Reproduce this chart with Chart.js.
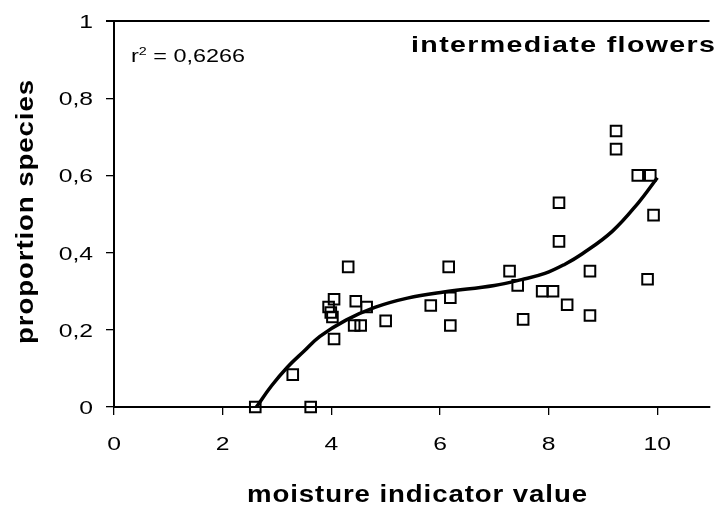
<!DOCTYPE html>
<html>
<head>
<meta charset="utf-8">
<script src="https://cdn.jsdelivr.net/npm/chart.js@4.4.1/dist/chart.umd.min.js"></script>
<style>
  body { margin: 0; background: #fff; }
</style>
</head>
<body>
<canvas id="myChart" width="719" height="508"></canvas>
<script>
// moisture indicator value vs proportion of species (intermediate flowers)
const moisture = [2.60, 3.29, 3.62, 3.95, 3.99, 4.02, 4.05, 4.05, 4.31, 4.42, 4.45, 4.54, 4.65, 5.00, 5.83, 6.16, 6.19, 6.19,
  7.28, 7.43, 7.53, 7.88, 8.08, 8.19, 8.19, 8.34, 8.76, 8.76, 9.24, 9.24, 9.64, 9.87, 9.93, 9.82]
const proportion = [0, 0.084, 0, 0.259, 0.245, 0.233, 0.279, 0.176, 0.363, 0.211, 0.274, 0.211, 0.259, 0.223, 0.263, 0.363, 0.283, 0.211,
  0.352, 0.315, 0.227, 0.300, 0.300, 0.529, 0.429, 0.265, 0.352, 0.237, 0.715, 0.668, 0.600, 0.600, 0.497, 0.331]

// trendline
const trendX = [2.62, 2.9, 3.19, 3.5, 3.79, 4.27, 4.8, 5.4, 6.07, 7.0, 7.5, 7.93, 8.3, 8.62, 9.17, 9.65, 10.0]
const trendY = [0, 0.055, 0.103, 0.145, 0.183, 0.225, 0.258, 0.282, 0.298, 0.315, 0.33, 0.346, 0.37, 0.397, 0.455, 0.529, 0.594]

const xTicks = [0, 2, 4, 6, 8, 10]
const yTicks = [0, 0.2, 0.4, 0.6, 0.8, 1]

const rSquared = '0,6266'
const panelTitle = 'intermediate flowers'
const xTitle = 'moisture indicator value'
const yTitle = 'proportion species'

const FONT = '"Liberation Sans", Arial, sans-serif'
const STRETCH = 1.3

function fmt(v){
  return String(v).replace('.', ',')
}

// old excel look: text a bit wider and spaced out, fitted to a width
function fitText(ctx, text, x, y, font, stretch, width, rot){
  ctx.save()
  ctx.font = font
  ctx.letterSpacing = '0px'
  const w0 = ctx.measureText(text).width
  const inner = width / stretch
  const sp = Math.max(0, (inner - w0) / (text.length - 1))
  ctx.translate(x, y)
  if (rot) ctx.rotate(rot)
  ctx.scale(stretch, 1)
  ctx.letterSpacing = sp + 'px'
  ctx.textAlign = 'left'
  ctx.textBaseline = 'alphabetic'
  ctx.fillStyle = '#000'
  ctx.fillText(text, -inner / 2, 0)
  ctx.restore()
}

function tickText(ctx, text, x, y, align){
  ctx.save()
  ctx.translate(x, y)
  ctx.scale(STRETCH, 1)
  ctx.font = '19px ' + FONT
  ctx.fillStyle = '#000'
  ctx.textAlign = align
  ctx.textBaseline = 'alphabetic'
  ctx.fillText(text, 0, 0)
  ctx.restore()
}

const textPlugin = {
  id: 'texts',
  afterDraw(chart){
    const ctx = chart.ctx
    const a = chart.chartArea
    const xs = chart.scales.x
    const ys = chart.scales.y

    ctx.save()
    // top frame line
    ctx.strokeStyle = '#000'
    ctx.lineWidth = 2
    ctx.beginPath()
    ctx.moveTo(a.left - 8, a.top)
    ctx.lineTo(a.right, a.top)
    ctx.stroke()
    ctx.restore()

    // tick labels, placed by the scales
    xs.ticks.forEach(t => tickText(ctx, fmt(t.value), xs.getPixelForValue(t.value), a.bottom + 43, 'center'))
    ys.ticks.forEach(t => tickText(ctx, fmt(t.value), 93, ys.getPixelForValue(t.value) + 7, 'right'))

    // r^2
    ctx.save()
    ctx.translate(131, 61.5)
    ctx.scale(STRETCH, 1)
    ctx.fillStyle = '#000'
    ctx.textBaseline = 'alphabetic'
    ctx.font = '18px ' + FONT
    ctx.fillText('r', 0, 0)
    let w = ctx.measureText('r').width
    ctx.font = '11px ' + FONT
    ctx.fillText('2', w, -7)
    w += ctx.measureText('2').width
    ctx.font = '18px ' + FONT
    ctx.fillText(' = ' + rSquared, w, 0)
    ctx.restore()

    fitText(ctx, panelTitle, 563, 52, 'bold 22px ' + FONT, 1.3, 304)
    fitText(ctx, xTitle, 417, 502, 'bold 23px ' + FONT, 1.2, 340)
    fitText(ctx, yTitle, 33, 212, 'bold 23px ' + FONT, 1.2, 264, -Math.PI / 2)
  }
}

const ctx = document.getElementById('myChart')
const myChart = new Chart(ctx, {
  type: 'scatter',
  data: {
    datasets: [
      {
        type: 'line',
        data: trendX.map((x, i) => ({ x: x, y: trendY[i] })),
        borderColor: '#000',
        borderWidth: 3.5,
        pointRadius: 0,
        tension: 0.4,
        fill: false,
        clip: false,
        order: 0
      },
      {
        data: moisture.map((x, i) => ({ x: x, y: proportion[i] })),
        pointStyle: 'rect',
        pointRadius: 7.5,
        borderWidth: 2,
        borderColor: '#000',
        backgroundColor: 'rgba(0,0,0,0)',
        clip: false,
        order: 1
      }
    ]
  },
  options: {
    responsive: false,
    animation: false,
    layout: { padding: { top: 21, right: 0, bottom: 0, left: 0 } },
    plugins: {
      legend: { display: false },
      tooltip: { enabled: false }
    },
    scales: {
      x: {
        type: 'linear',
        min: 0,
        max: 10.96,
        afterBuildTicks: s => { s.ticks = xTicks.map(v => ({ value: v })) },
        afterFit: s => { s.height = 101 },
        ticks: { display: false },
        grid: { drawOnChartArea: false, drawTicks: true, tickLength: 8, color: '#000', lineWidth: 1.3 },
        border: { display: true, color: '#000', width: 2 }
      },
      y: {
        type: 'linear',
        min: 0,
        max: 1,
        afterBuildTicks: s => { s.ticks = yTicks.map(v => ({ value: v })) },
        afterFit: s => { s.width = 114 },
        ticks: { display: false },
        grid: { drawOnChartArea: false, drawTicks: true, tickLength: 8, color: '#000', lineWidth: 1.3 },
        border: { display: true, color: '#000', width: 2 }
      }
    }
  },
  plugins: [textPlugin]
})
</script>
</body>
</html>
